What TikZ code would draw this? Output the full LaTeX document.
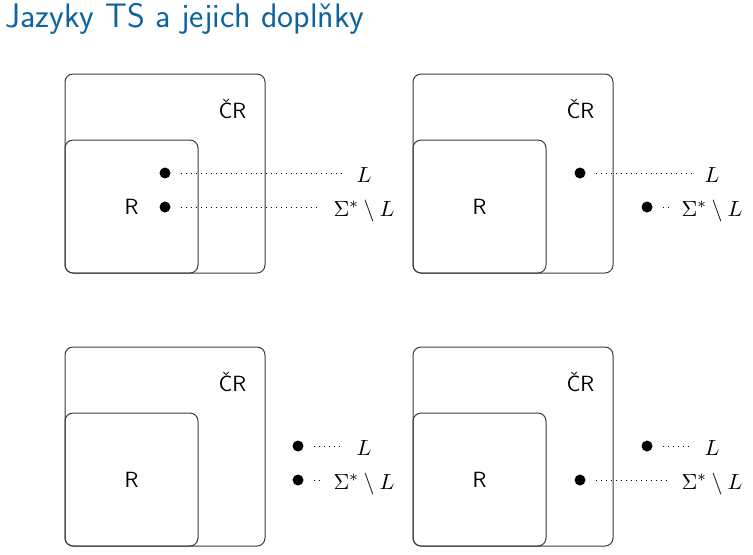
\documentclass[tikz,border=0pt]{standalone}
\usepackage{amsmath,amssymb}
\usepackage{xcolor}
\usepackage{tikz}
\usetikzlibrary{positioning,calc}
\definecolor{titleblue}{HTML}{0F64A0}
\definecolor{frameline}{HTML}{3A3A3A}
\tikzset{
  crbox/.style={draw=frameline,rounded corners=4pt,minimum width=100pt,minimum height=99.5pt,line width=0.5pt},
  rbox/.style={draw=frameline,rounded corners=4pt,minimum size=66.5pt,line width=0.5pt,font=\sffamily\fontsize{11}{13}\selectfont},
  cname/.style={anchor=base,inner sep=0pt,font=\sffamily\fontsize{11}{13}\selectfont},
  edot/.style={circle,fill=black,inner sep=0pt,minimum size=5.5pt,outer sep=5pt},
  elab/.style={anchor=base,inner sep=6.5pt,font=\fontsize{11}{13}\selectfont},
  dotlink/.style={dotted,line width=0.5pt}
}

\begin{document}
\begin{tikzpicture}[x=0.5pt,y=-0.5pt]
  \useasboundingbox (0,0) rectangle (753,554);
  \node[anchor=base west,inner sep=0pt,text=titleblue,font=\sffamily\fontsize{17}{20}\selectfont] (title) at (5,27) {Jazyky TS a jejich doplňky};
  % top left: both inside R
  \node[crbox] (cr1) at (165,173.5) {};
  \node[rbox] (r1) at (131.5,206.5) {R};
  \node[cname] (n1) at (232.5,118) {ČR};
  \node[edot] (dl1) at (165,173) {};
  \node[edot] (ds1) at (165,207) {};
  \node[elab] (ll1) at (364,182.5) {$L$};
  \node[elab] (ls1) at (364,216) {$\Sigma^*\setminus L$};
  \draw[dotlink] (dl1) -- (dl1 -| ll1.west);
  \draw[dotlink] (ds1) -- (ds1 -| ls1.west);
  % top right
  \node[crbox] (cr2) at (513,173.5) {};
  \node[rbox] (r2) at (479.5,206.5) {R};
  \node[cname] (n2) at (580.5,118) {ČR};
  \node[edot] (dl2) at (580,173) {};
  \node[edot] (ds2) at (647,207) {};
  \node[elab] (ll2) at (712,182.5) {$L$};
  \node[elab] (ls2) at (712,216) {$\Sigma^*\setminus L$};
  \draw[dotlink] (dl2) -- (dl2 -| ll2.west);
  \draw[dotlink] (ds2) -- (ds2 -| ls2.west);
  % bottom left
  \node[crbox] (cr3) at (165,446.5) {};
  \node[rbox] (r3) at (131.5,479.5) {R};
  \node[cname] (n3) at (232.5,391) {ČR};
  \node[edot] (dl3) at (298,446) {};
  \node[edot] (ds3) at (298,480) {};
  \node[elab] (ll3) at (364,455.5) {$L$};
  \node[elab] (ls3) at (364,489) {$\Sigma^*\setminus L$};
  \draw[dotlink] (dl3) -- (dl3 -| ll3.west);
  \draw[dotlink] (ds3) -- (ds3 -| ls3.west);
  % bottom right
  \node[crbox] (cr4) at (513,446.5) {};
  \node[rbox] (r4) at (479.5,479.5) {R};
  \node[cname] (n4) at (580.5,391) {ČR};
  \node[edot] (dl4) at (647,446) {};
  \node[edot] (ds4) at (580,480) {};
  \node[elab] (ll4) at (712,455.5) {$L$};
  \node[elab] (ls4) at (712,489) {$\Sigma^*\setminus L$};
  \draw[dotlink] (dl4) -- (dl4 -| ll4.west);
  \draw[dotlink] (ds4) -- (ds4 -| ls4.west);
\end{tikzpicture}
\end{document}
